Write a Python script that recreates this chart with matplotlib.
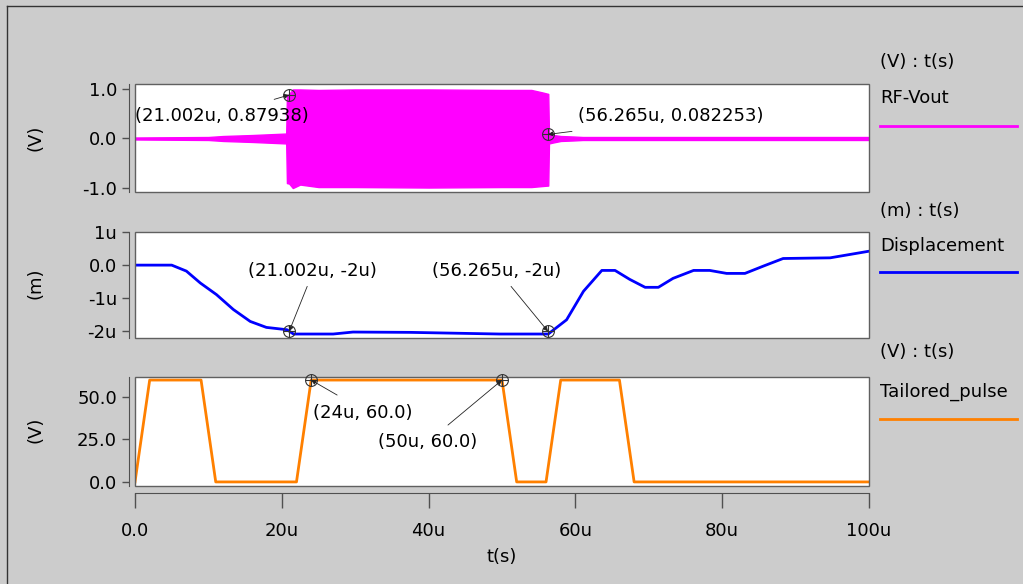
import matplotlib.pyplot as plt
from matplotlib.patches import Rectangle
from matplotlib.lines import Line2D

# time axis is in microseconds (u)
x_ticks = [0, 20, 40, 60, 80, 100]
x_ticklabels = ['0.0', '20u', '40u', '60u', '80u', '100u']

# RF-Vout: envelope of the fast oscillation (V)
rf_t = [0, 10, 12, 16, 20.6, 20.7, 21.0, 21.5, 22.5, 25, 30, 40, 50, 54, 55.5, 56.3, 56.4, 57, 58, 59.7, 61, 100]
rf_hi = [0.02, 0.03, 0.05, 0.07, 0.10, 0.86, 0.90, 0.99, 0.99, 0.98, 0.99, 0.99, 0.98, 0.98, 0.93, 0.90, 0.09, 0.07, 0.05, 0.04, 0.03, 0.03]
rf_lo = [-0.02, -0.03, -0.05, -0.07, -0.10, -0.90, -0.91, -1.0, -0.93, -0.98, -0.98, -0.99, -0.98, -0.98, -0.96, -0.95, -0.10, -0.08, -0.05, -0.04, -0.03, -0.03]
rf_ticks = [-1, 0, 1]
rf_ticklabels = ['-1.0', '0.0', '1.0']

# Displacement (um)
disp_t = [0, 5.0, 7.0, 8.9, 11.1, 13.4, 15.7, 17.9, 20.7, 21.6, 27.0, 29.7, 37.5, 49.7, 56.3, 58.8, 61.1,
          63.6, 65.4, 67.4, 69.5, 71.3, 73.3, 76.1, 78.3, 80.6, 83.1, 85.6, 88.3, 94.7, 100]
disp_v = [0, 0, -0.18, -0.54, -0.89, -1.34, -1.70, -1.88, -1.95, -2.08, -2.08, -2.02, -2.03, -2.08, -2.08, -1.65, -0.79,
          -0.16, -0.16, -0.43, -0.67, -0.67, -0.40, -0.16, -0.16, -0.25, -0.25, -0.03, 0.20, 0.22, 0.42]
disp_ticks = [-2, -1, 0, 1]
disp_ticklabels = ['-2u', '-1u', '0.0', '1u']

# Tailored pulse (V)
pulse_t = [0, 2, 9, 11, 22, 24, 50, 52, 56, 58, 66, 68, 100]
pulse_v = [0, 60, 60, 0, 0, 60, 60, 0, 0, 60, 60, 0, 0]
pulse_ticks = [0, 25, 50]
pulse_ticklabels = ['0.0', '25.0', '50.0']

# cursor markers (x, y, text)
rf_marks = [(21.002, 0.87938, '(21.002u, 0.87938)'), (56.265, 0.082253, '(56.265u, 0.082253)')]
disp_marks = [(21.002, -2.0, '(21.002u, -2u)'), (56.265, -2.0, '(56.265u, -2u)')]
pulse_marks = [(24, 60.0, '(24u, 60.0)'), (50, 60.0, '(50u, 60.0)')]

FS = 13
GRAY = '#cccccc'
AXC = '#505050'

fig = plt.figure(figsize=(10.23, 5.84), dpi=100, facecolor=GRAY)
W, H = 1023, 584

def make_ax(top, bottom):
    ax = fig.add_axes([135 / W, (H - bottom) / H, 734 / W, (bottom - top) / H])
    ax.set_facecolor('white')
    for s in ['top', 'right', 'bottom']:
        ax.spines[s].set_visible(False)
    ax.spines['left'].set_position(('outward', 4))
    ax.spines['left'].set_color(AXC)
    ax.add_patch(Rectangle((0, 0), 1, 1, transform=ax.transAxes, fill=False,
                           edgecolor='#606060', lw=1, zorder=5, clip_on=False))
    ax.tick_params(axis='y', direction='out', length=5, width=1, color=AXC, pad=4, labelsize=FS)
    ax.set_xlim(0, 100)
    ax.set_xticks([])
    return ax

def add_marks(ax, marks, offsets):
    for (mx, my, txt), (tx, ty, ax_, ay) in zip(marks, offsets):
        ax.plot(mx, my, 'o', ms=8.5, mfc='none', mec='#333333', mew=0.8, clip_on=False, zorder=6)
        ax.plot(mx, my, '+', ms=8.5, color='#333333', mew=0.8, clip_on=False, zorder=6)
        ax.annotate('', xy=(mx, my), xytext=(ax_, ay), textcoords='offset points',
                    arrowprops=dict(arrowstyle='-|>', lw=0.6, color='#222222', mutation_scale=7,
                                    shrinkA=0, shrinkB=0), annotation_clip=False, zorder=7)
        ax.annotate(txt, xy=(mx, my), xytext=(tx, ty), textcoords='offset points',
                    ha='center', va='center', fontsize=FS, annotation_clip=False, zorder=8)

# panel 1 - RF-Vout
ax1 = make_ax(84, 192)
ax1.fill_between(rf_t, rf_lo, rf_hi, color='#ff00ff', lw=1)
ax1.set_ylim(-1.08, 1.10)
ax1.set_yticks(rf_ticks)
ax1.set_yticklabels(rf_ticklabels)
add_marks(ax1, rf_marks, [(-48.6, -15.5, -10.8, -3.2), (88.6, 13, 17.3, 2.2)])

# panel 2 - Displacement
ax2 = make_ax(232, 338)
ax2.plot(disp_t, disp_v, color='#0000ff', lw=2)
ax2.set_ylim(-2.2, 1.0)
ax2.set_yticks(disp_ticks)
ax2.set_yticklabels(disp_ticklabels)
add_marks(ax2, disp_marks, [(16.6, 43.2, 13, 32.4), (-36.7, 43.2, -26.6, 32.4)])

# panel 3 - Tailored pulse
ax3 = make_ax(377, 486)
ax3.plot(pulse_t, pulse_v, color='#ff8000', lw=2)
ax3.set_ylim(-2.4, 61.8)
ax3.set_yticks(pulse_ticks)
ax3.set_yticklabels(pulse_ticklabels)
add_marks(ax3, pulse_marks, [(37.4, -23.8, 18.7, -10.8), (-53.3, -44.6, -38.9, -32.4)])
ax3.spines['bottom'].set_visible(True)
ax3.spines['bottom'].set_position(('outward', 5))
ax3.spines['bottom'].set_color(AXC)
ax3.set_xticks(x_ticks)
ax3.set_xticklabels(x_ticklabels)
ax3.tick_params(axis='x', direction='out', length=10.8, width=1, color=AXC, pad=10, labelsize=FS)
ax3.set_xlabel('t(s)', fontsize=FS, labelpad=6)

# y axis units on the left
for yc, lab in [(138, '(V)'), (283, '(m)'), (430, '(V)')]:
    fig.text(36 / W, 1 - yc / H, lab, rotation=90, ha='center', va='center', fontsize=FS)

# legend column on the right
legend = [(62, 98, 126, '(V) : t(s)', 'RF-Vout', '#ff00ff'),
          (211, 246, 272, '(m) : t(s)', 'Displacement', '#0000ff'),
          (352, 392, 419, '(V) : t(s)', 'Tailored_pulse', '#ff8000')]
for yh, yn, yl, head, name, col in legend:
    fig.text(880 / W, 1 - yh / H, head, ha='left', va='center', fontsize=FS)
    fig.text(880 / W, 1 - yn / H, name, ha='left', va='center', fontsize=FS)
    fig.add_artist(Line2D([880 / W, 1017 / W], [1 - yl / H, 1 - yl / H], color=col, lw=2))

# outer window border (left and top edges)
fig.add_artist(Line2D([7 / W, 7 / W], [0, 1 - 6 / H], color='#333333', lw=1))
fig.add_artist(Line2D([7 / W, 1], [1 - 6 / H, 1 - 6 / H], color='#333333', lw=1))

plt.savefig('out.png', dpi=100, facecolor=GRAY)
